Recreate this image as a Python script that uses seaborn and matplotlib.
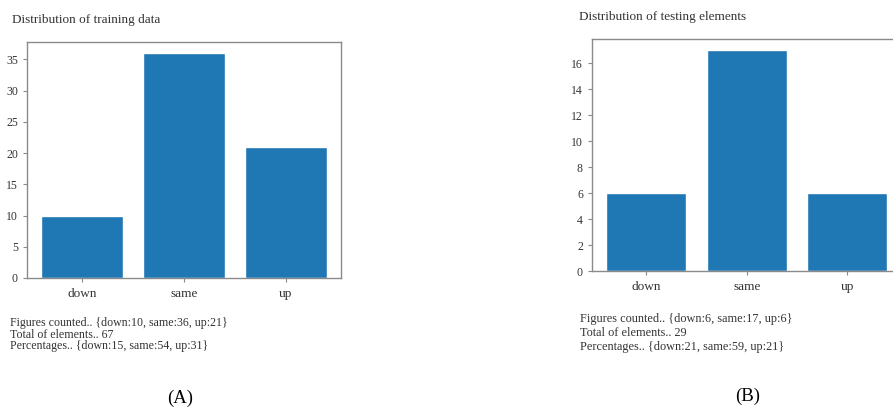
import matplotlib
matplotlib.use("Agg")
import matplotlib.pyplot as plt
import seaborn as sns
import pandas as pd

categories = ["down", "same", "up"]
train_counts = [10, 36, 21]
test_counts = [6, 17, 6]
train_yticks = [0, 5, 10, 15, 20, 25, 30, 35]
test_yticks = [0, 2, 4, 6, 8, 10, 12, 14, 16]

train_title = "Distribution of training data"
test_title = "Distribution of testing elements"
train_lines = ["Figures counted.. {down:10, same:36, up:21}",
               "Total of elements.. 67",
               "Percentages.. {down:15, same:54, up:31}"]
test_lines = ["Figures counted.. {down:6, same:17, up:6}",
              "Total of elements.. 29",
              "Percentages.. {down:21, same:59, up:21}"]

sns.set_style("ticks")
plt.rcParams["font.family"] = ["Liberation Serif", "DejaVu Serif"]
TXT = "#333333"
SP = "#8a8a8a"
BLUE = "#1f77b4"

W, H = 893, 413
fig = plt.figure(figsize=(W / 100, H / 100), dpi=100)


def px_axes(left, top, right, bottom):
    return fig.add_axes([left / W, (H - bottom) / H, (right - left) / W, (bottom - top) / H])


def draw(ax, counts, yticks):
    df = pd.DataFrame({"cat": categories, "n": counts})
    sns.barplot(data=df, x="cat", y="n", color=BLUE, saturation=1, width=0.8, ax=ax)
    ax.set_xlim(-0.54, 2.54)
    ax.set_ylim(0, max(counts) * 1.05)
    ax.set_yticks(yticks)
    ax.set_xlabel("")
    ax.set_ylabel("")
    ax.tick_params(axis="both", labelsize=8.5, colors=SP, labelcolor=TXT, length=3, width=0.8)
    ax.tick_params(axis="x", labelsize=9.5, pad=4)
    for s in ax.spines.values():
        s.set_color(SP)
        s.set_linewidth(1.0)


ax1 = px_axes(27, 42, 341, 278)
draw(ax1, train_counts, train_yticks)
ax2 = px_axes(592, 39, 592 + 309.5, 271)
draw(ax2, test_counts, test_yticks)

fig.text(12 / W, 1 - 20 / H, train_title, fontsize=9.5, color=TXT, va="center", ha="left")
fig.text(579 / W, 1 - 17 / H, test_title, fontsize=9.5, color=TXT, va="center", ha="left")

for i, line in enumerate(train_lines):
    fig.text(10 / W, 1 - (323 + i * 11.5) / H, line, fontsize=8.6, color=TXT, va="center", ha="left")
for i, line in enumerate(test_lines):
    fig.text(580 / W, 1 - (319 + i * 14) / H, line, fontsize=8.8, color=TXT, va="center", ha="left")

fig.text(180 / W, 1 - 398 / H, "(A)", fontsize=13.5, color="black", va="center", ha="center")
fig.text(748 / W, 1 - 396 / H, "(B)", fontsize=13.5, color="black", va="center", ha="center")

fig.savefig("out.png", dpi=100)
